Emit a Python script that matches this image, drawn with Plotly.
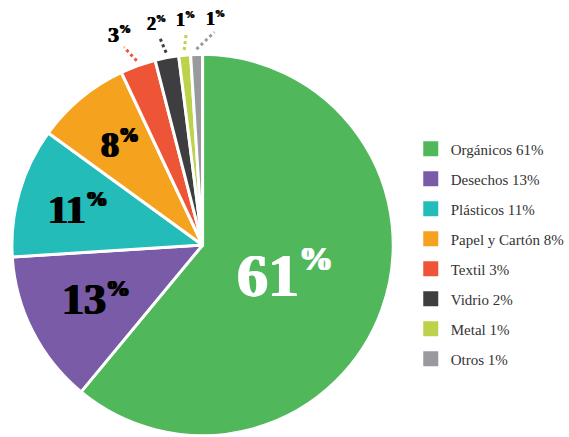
import math
import plotly.graph_objects as go

# ---- data ----
categories = ["Orgánicos", "Desechos", "Plásticos", "Papel y Cartón", "Textil", "Vidrio", "Metal", "Otros"]
values = [61, 13, 11, 8, 3, 2, 1, 1]
colors = ["#50B85A", "#7A5BA8", "#24BCB8", "#F5A21F", "#EE5536", "#3E3E40", "#BDD14A", "#9A9A9E"]

# ---- styles for labels ----
inside_count = 4
inside_rfrac = [0.46, 0.63, 0.68, 0.68]
inside_size = [62, 44, 40, 36]
inside_color = ["white", "black", "black", "black"]
outside_size = [22, 18, 18, 18]
outside_angle_offset = [-2, -1, 1, 5]
pct_ratio = 0.55  # size of the % sign relative to the number

W, H = 569, 437
CX, CY, R = 204, 245, 192  # pie geometry in pixels
FONT = "Liberation Serif, Times New Roman, serif"

fig = go.Figure()
fig.add_trace(go.Pie(
    labels=categories, values=values, sort=False, direction="clockwise", rotation=0,
    marker=dict(colors=colors, line=dict(color="white", width=3)),
    textinfo="none", hoverinfo="label+percent", showlegend=False,
    domain=dict(x=[(CX - R) / W, (CX + R) / W], y=[(H - CY - R) / H, (H - CY + R) / H]),
))

total = sum(values)

def px_to_paper(x, y):
    return x / W, (H - y) / H

def polar(angle_deg, r):
    a = math.radians(angle_deg)
    return CX + r * math.sin(a), CY - r * math.cos(a)

def label_text(v, size):
    ps = round(size * pct_ratio)
    return f"<b>{v}<sup><span style=\"font-size:{ps}px\">%</span></sup></b>"

def heavy(color, w):
    return f"{w}px 0 0 {color}, -{w}px 0 0 {color}"

cum = 0
mids = []
for v in values:
    mids.append((cum + v / 2) / total * 360)
    cum += v

annotations = []
shapes = []
for i, (v, m) in enumerate(zip(values, mids)):
    if i < inside_count:
        x, y = polar(m, R * inside_rfrac[i])
        px, py = px_to_paper(x, y)
        annotations.append(dict(
            x=px, y=py, xref="paper", yref="paper", showarrow=False,
            text=label_text(v, inside_size[i]),
            font=dict(family=FONT, size=inside_size[i], color=inside_color[i],
                      shadow=heavy(inside_color[i], 1)),
            xanchor="center", yanchor="middle",
        ))
    else:
        j = i - inside_count
        a2 = m + outside_angle_offset[j]
        x0, y0 = polar(m, R * 1.02)
        x1, y1 = polar(a2, R * 1.11)
        p0 = px_to_paper(x0, y0)
        p1 = px_to_paper(x1, y1)
        shapes.append(dict(type="line", xref="paper", yref="paper",
                           x0=p0[0], y0=p0[1], x1=p1[0], y1=p1[1],
                           line=dict(color=colors[i], width=3, dash="dot")))
        xl, yl = polar(a2, R * 1.18)
        pl = px_to_paper(xl, yl)
        annotations.append(dict(
            x=pl[0], y=pl[1], xref="paper", yref="paper", showarrow=False,
            text=label_text(v, outside_size[j]),
            font=dict(family=FONT, size=outside_size[j], color="black",
                      shadow=heavy("black", 0.5)),
            xanchor="center", yanchor="middle",
        ))

# legend entries via dummy traces
for c, v, col in zip(categories, values, colors):
    fig.add_trace(go.Scatter(
        x=[None], y=[None], mode="markers", name=f"{c} {v}%",
        marker=dict(symbol="square", size=15, color=col),
        legendgroup=c, showlegend=True, hoverinfo="skip",
    ))

fig.update_layout(
    width=W, height=H,
    margin=dict(l=0, r=0, t=0, b=0),
    paper_bgcolor="white", plot_bgcolor="white",
    font=dict(family=FONT, size=15, color="#333333"),
    xaxis=dict(visible=False), yaxis=dict(visible=False),
    annotations=annotations, shapes=shapes,
    legend=dict(
        x=0.727, y=0.697, xanchor="left", yanchor="top",
        font=dict(family=FONT, size=15, color="#333333"),
        tracegroupgap=7.5, itemsizing="trace", bgcolor="rgba(0,0,0,0)",
    ),
    showlegend=True,
)

fig.write_html("out.html")
